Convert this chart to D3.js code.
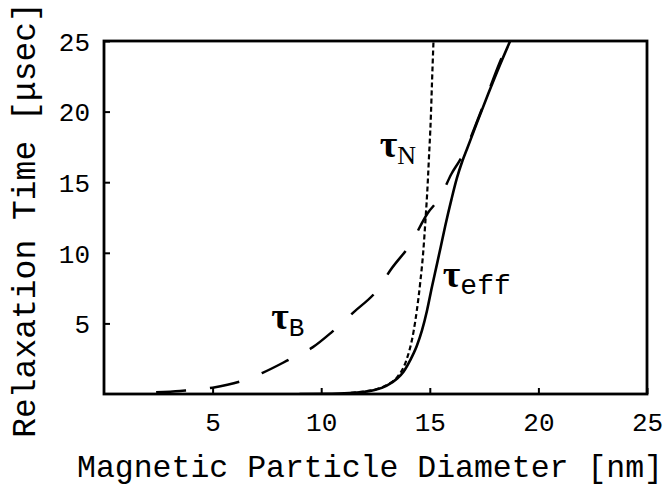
<!DOCTYPE html>
<html>
<head>
<meta charset="utf-8">
<script src="https://cdn.jsdelivr.net/npm/d3@7"></script>
<style>
  html, body { margin: 0; padding: 0; background: #fff; }
  svg { display: block; }
</style>
</head>
<body>
<svg id="chart" width="665" height="487"></svg>
<script>
// Magnetic particle diameter [nm] vs. relaxation time [µs]
const xTicks = [5, 10, 15, 20, 25];
const yTicks = [5, 10, 15, 20, 25];

// Brownian relaxation (long dashes)
const brownD   = [2.4, 3.5, 5.0, 6.3, 7.3, 8.6, 9.6, 10.5, 11.5, 12.6, 13.2, 14.1, 14.9, 15.5, 16.0, 16.4, 16.7, 17.2, 17.7, 18.2, 18.65];
const brownTau = [0.12, 0.22, 0.45, 0.9, 1.5, 2.5, 3.3, 4.4, 5.8, 7.4, 8.8, 10.6, 12.8, 14.0, 15.6, 16.6, 17.5, 19.4, 21.4, 23.4, 25];

// Néel relaxation (short dashes)
const neelD   = [11.0, 12.0, 12.5, 13.0, 13.5, 13.9, 14.25, 14.56, 14.7, 14.8, 14.9, 14.95, 15.05, 15.1, 15.17];
const neelTau = [0.05, 0.18, 0.32, 0.62, 1.2, 2.3, 4.4, 7.9, 10.1, 12.3, 14.8, 16.4, 19.7, 22.0, 25];

// Effective relaxation (solid)
const effD   = [9.0, 10.5, 11.5, 12.0, 12.5, 13.0, 13.5, 13.8, 14.1, 14.4, 14.64, 14.87, 15.1, 15.33, 15.5, 15.71, 16.0, 16.25, 16.5, 16.7, 17.17, 17.7, 18.2, 18.7];
const effTau = [0.0, 0.02, 0.08, 0.16, 0.3, 0.58, 1.1, 1.6, 2.4, 3.4, 4.5, 5.9, 7.6, 9.2, 10.4, 11.9, 13.8, 15.3, 16.5, 17.3, 19.2, 21.3, 23.2, 25];

const svg = d3.select("#chart");
const W = 665, H = 487;
const margin = { top: 41, right: 18, bottom: 93, left: 104 };
const iw = W - margin.left - margin.right;
const ih = H - margin.top - margin.bottom;

const x = d3.scaleLinear().domain([0, 25]).range([0, iw]);
const y = d3.scaleLinear().domain([0, 25]).range([ih, 0]);

const g = svg.append("g").attr("transform", `translate(${margin.left},${margin.top})`);

const mono = "'Liberation Mono', 'Courier New', monospace";
const serif = "'Liberation Serif', 'Times New Roman', serif";

// Clip curves to plot box
svg.append("defs").append("clipPath").attr("id", "plot-clip")
  .append("rect").attr("width", iw).attr("height", ih);

const line = d3.line().x(d => x(d[0])).y(d => y(d[1])).curve(d3.curveMonotoneX);
const curves = g.append("g").attr("clip-path", "url(#plot-clip)");

curves.append("path")
  .datum(d3.zip(brownD, brownTau))
  .attr("d", line)
  .attr("fill", "none").attr("stroke", "#000").attr("stroke-width", 2.5)
  .attr("stroke-dasharray", "30,24");

curves.append("path")
  .datum(d3.zip(neelD, neelTau))
  .attr("d", line)
  .attr("fill", "none").attr("stroke", "#000").attr("stroke-width", 2.2)
  .attr("stroke-dasharray", "5,3");

curves.append("path")
  .datum(d3.zip(effD, effTau))
  .attr("d", line)
  .attr("fill", "none").attr("stroke", "#000").attr("stroke-width", 2.6);

// Axes: inward ticks, labels only
const xAxis = d3.axisBottom(x).tickValues(xTicks).tickSizeInner(-6).tickSizeOuter(0).tickPadding(19);
const yAxis = d3.axisLeft(y).tickValues(yTicks).tickSizeInner(-6).tickSizeOuter(0).tickPadding(14);

const gx = g.append("g").attr("transform", `translate(0,${ih})`).call(xAxis);
const gy = g.append("g").call(yAxis);
[gx, gy].forEach(a => {
  a.select(".domain").remove();
  a.selectAll("line").attr("stroke", "#000").attr("stroke-width", 2);
  a.selectAll("text").attr("font-family", mono).attr("font-size", 26).attr("fill", "#000");
});
gy.selectAll("text").attr("dy", "0.36em");

// Frame
g.append("rect").attr("width", iw).attr("height", ih)
  .attr("fill", "none").attr("stroke", "#000").attr("stroke-width", 2.8);

// Axis titles
svg.append("text")
  .attr("x", 370).attr("y", 477)
  .attr("text-anchor", "middle")
  .attr("font-family", mono).attr("font-size", 31.5)
  .text("Magnetic Particle Diameter [nm]");

svg.append("text")
  .attr("transform", "translate(35,220) rotate(-90)")
  .attr("text-anchor", "middle")
  .attr("font-family", mono).attr("font-size", 33)
  .text("Relaxation Time [\u03bcsec]");

// Curve labels
function tauLabel(d, t, sub, subFont, subSize) {
  const tx = g.append("text")
    .attr("x", x(d)).attr("y", y(t))
    .attr("font-family", serif)
    .attr("font-weight", "bold").attr("font-size", 38);
  tx.append("tspan").text("\u03c4");
  tx.append("tspan").attr("font-family", subFont).attr("font-weight", "normal")
    .attr("font-size", subSize).attr("dy", 7).text(sub);
}
tauLabel(12.7, 16.8, "N", serif, 26);
tauLabel(7.7, 4.6, "B", mono, 26);
tauLabel(15.6, 7.6, "eff", mono, 28);
</script>
</body>
</html>
